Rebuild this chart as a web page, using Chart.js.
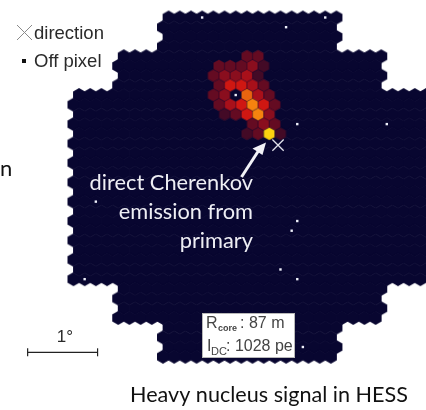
<!DOCTYPE html>
<html>
<head>
<meta charset="utf-8">
<style>html,body{margin:0;padding:0;background:#fff}canvas{display:block}</style>
<script src="https://cdn.jsdelivr.net/npm/chart.js@4"></script>
</head>
<body>
<canvas id="c" width="426" height="410"></canvas>
<script>
// Camera layout: pixels per row, top row to bottom row (960 pixels)
const rowPixelCounts = [16,16,16,16,24,24,24,24,
  32,32,32,32,32,32,32,32,32,32,32,32,32,32,32,32,32,32,32,32,
  24,24,24,24,16,16,16,16];
// Lit pixels: camera row, column offset from the axis, brightness level
const hitRows = [4,4, 5,5,5,5,5, 6,6,6,6,6, 7,7,7,7,7, 8,8,8,8,8, 9,9,9,9,9,9, 10,10,10,10,10, 11,11,11, 12,12,12,12];
const hitCols = [-0.5,0.5, -3,-2,-1,0,1, -3.5,-2.5,-1.5,-0.5,0.5, -3,-2,-1,0,1, -3.5,-2.5,-0.5,0.5,1.5, -3,-2,-1,0,1,2, -2.5,-1.5,-0.5,0.5,1.5, 0,1,2, -0.5,0.5,1.5,2.5];
const hitLevels = [2,2, 2,2,2,3,1, 2,3,3,4,1, 2,5,5,4,2, 2,3,6,4,2, 2,4,5,7,5,2, 1,2,5,7,3, 2,3,2, 1,2,8,1];
// Switched-off pixels
const offRows = [0,0,1,8,11,11,19,21,22,26,27,27,34];
const offCols = [-4.5,6.5,3,-1.5,4,12,-14,4,3.5,2.5,4,-15,4.5];
// Shower direction and the 1 degree scale bar (degrees on the camera)
const directionX = [0.365];
const directionY = [0.60];
const scaleBarX = [-3.215,-2.215];
const scaleBarY = [-2.362,-2.362];
// Texts
const annotationLines = ["direct Cherenkov","emission from","primary"];
const captionText = "Heavy nucleus signal in HESS";
const legendLabels = ["direction","Off pixel"];
const scaleLabel = "1°";
const coreLabel = ": 87 m";
const dcLabel = ": 1028 pe";

const PITCH = 0.16, ROW = PITCH*Math.sqrt(3)/2, PX = 69.94;
const levelColors = [null,"#430a26","#640b22","#8a0e1e","#a8101a","#cf1712","#e8640f","#f5830f","#fdd20f"];

function hexCanvas(color, flat){
  const c = document.createElement("canvas"); c.width = 16; c.height = 16;
  const g = c.getContext("2d"), r = flat/Math.sqrt(3);
  g.fillStyle = color; g.beginPath();
  for(let i=0;i<6;i++){
    const a = Math.PI/2 + i*Math.PI/3, x = 8+r*Math.cos(a), y = 8+r*Math.sin(a);
    i? g.lineTo(x,y): g.moveTo(x,y);
  }
  g.closePath(); g.fill();
  return c;
}
const rowY = r => (17.5-r)*ROW;
const camera = [];
rowPixelCounts.forEach((n,r)=>{
  const first = r%2 ? -n/2 : -(n-1)/2;
  for(let i=0;i<n;i++) camera.push({x:(first+i)*PITCH, y:rowY(r)});
});
const hits = hitRows.map((r,i)=>({x:hitCols[i]*PITCH, y:rowY(r)}));
const offs = offRows.map((r,i)=>({x:offCols[i]*PITCH, y:rowY(r)}));
const camHex = hexCanvas("#080630", 12);
const hitHexes = hitLevels.map(l=>hexCanvas(levelColors[l], 10.9));

const overlay = {
  id:"overlay",
  afterDatasetsDraw(chart){
    const g = chart.ctx;
    g.save();
    // arrow
    g.strokeStyle = g.fillStyle = "#f2f2f8";
    g.lineWidth = 3;
    g.beginPath(); g.moveTo(241.5,177); g.lineTo(259,150); g.stroke();
    g.beginPath(); g.moveTo(266,142.5); g.lineTo(262.5,155); g.lineTo(252.5,148.5); g.closePath(); g.fill();
    // annotation
    g.textBaseline = "alphabetic";
    g.textAlign = "right";
    g.fillStyle = "#eeeef4";
    g.font = "21.8px Lato";
    annotationLines.forEach((t,i)=>g.fillText(t,253,190+i*29.2));
    // caption + cut-off letter
    g.fillStyle = "#111";
    g.textAlign = "left";
    g.font = "21.6px Lato";
    g.fillText(captionText,130,402);
    g.font = "22px Lato";
    g.fillText("n",0,176);
    // legend
    g.strokeStyle = "#8a8a8a"; g.lineWidth = 1;
    g.beginPath(); g.moveTo(17,25); g.lineTo(32,40); g.moveTo(32,25); g.lineTo(17,40); g.stroke();
    g.fillStyle = "#111"; g.fillRect(22,59,4,4);
    g.fillStyle = "#2a2a2a"; g.font = "18.5px 'Liberation Sans'";
    g.fillText(legendLabels[0],34,39);
    g.fillText(legendLabels[1],34,67);
    // scale label
    g.textAlign = "center";
    g.font = "17px 'Liberation Sans'";
    g.fillText(scaleLabel,65,342);
    // info box
    g.fillStyle = "#fff"; g.fillRect(202,313,93,45);
    g.strokeStyle = "#b8b8b8"; g.lineWidth = 1; g.strokeRect(202.5,313.5,92,44);
    g.textAlign = "left"; g.fillStyle = "#444";
    g.font = "16px 'Liberation Sans'";
    g.fillText("R",206,328);
    g.fillText("I",207,351);
    g.fillText(coreLabel,240,328);
    g.fillText(dcLabel,226,351);
    g.font = "bold 9px 'Liberation Sans'";
    g.fillText("core",218,331);
    g.font = "11px 'Liberation Sans'";
    g.fillText("DC",211,355);
    g.restore();
  }
};

new Chart(document.getElementById("c"),{
  type:"scatter",
  data:{datasets:[
    {label:"scale",data:scaleBarX.map((x,i)=>({x,y:scaleBarY[i]})),showLine:true,borderColor:"#222",borderWidth:1.2,pointStyle:"line",pointRotation:90,pointRadius:4,pointBorderColor:"#222",pointBorderWidth:1.2},
    {label:"direction",data:directionX.map((x,i)=>({x,y:directionY[i]})),pointStyle:"crossRot",pointRadius:8,pointBorderColor:"#dfe0ea",pointBorderWidth:1.3,borderColor:"#dfe0ea"},
    {label:"off",data:offs,pointStyle:"rect",pointRadius:1.7,pointBackgroundColor:"#eef0fa",backgroundColor:"#eef0fa",pointBorderWidth:0,borderWidth:0},
    {label:"hits",data:hits,pointStyle:hitHexes,pointRadius:6},
    {label:"camera",data:camera,pointStyle:camHex,pointRadius:6}
  ]},
  options:{
    responsive:false,animation:false,devicePixelRatio:1,events:[],
    layout:{padding:0,autoPadding:false},
    plugins:{legend:{display:false},tooltip:{enabled:false},title:{display:false}},
    scales:{
      x:{type:"linear",display:false,min:-252.5/PX,max:173.5/PX},
      y:{type:"linear",display:false,min:-(410-187.1)/PX,max:187.1/PX}
    }
  },
  plugins:[overlay]
});
</script>
</body>
</html>
